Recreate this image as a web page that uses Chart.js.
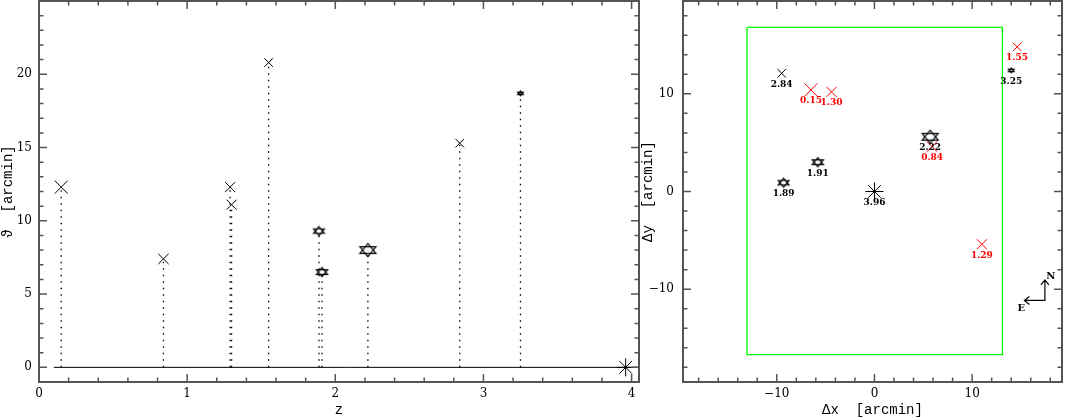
<!DOCTYPE html>
<html>
<head>
<meta charset="utf-8">
<script src="https://cdn.jsdelivr.net/npm/chart.js@4"></script>
<style>
html, body { margin: 0; padding: 0; background: #fff; }
#wrap { position: relative; width: 1066px; height: 419px; overflow: hidden; }
#left { position: absolute; left: 0; top: 0; }
#right { position: absolute; left: 640px; top: 0; }
</style>
</head>
<body>
<div id="wrap">
  <canvas id="left" width="645" height="419"></canvas>
  <canvas id="right" width="426" height="419"></canvas>
</div>
<script>
// objetos, mismo orden en los dos paneles
const zLabels = ['0.15', '0.84', '1.29', '1.30', '1.55', '1.89', '1.91', '2.22', '2.84', '3.25', '3.96'];
const z     = [0.15, 0.84, 1.29, 1.30, 1.55, 1.89, 1.91, 2.22, 2.84, 3.25, 3.96];
const theta = [12.3, 7.4, 12.3, 11.1, 20.8, 9.3, 6.5, 8.0, 15.3, 18.7, 0];   // separacion [arcmin]
const dx    = [-6.5, 5.9, 11.0, -4.4, 14.6, -9.3, -5.8, 5.7, -9.5, 14.0, 0];
const dy    = [10.4, 4.6, -5.4, 10.2, 14.8, 0.9, 3.0, 5.6, 12.1, 12.4, 0];
const kind  = ['x', 'x', 'x', 'x', 'x', 'star', 'star', 'star', 'x', 'star', 'ast'];

// ejes
const zRange = [0, 4.05];
const thetaRange = [-1, 25];
const dxRange = [-19.6, 19.2];
const dyRange = [-19.5, 19.5];
const zTicks = [0, 1, 2, 3, 4];
const thetaTicks = [0, 5, 10, 15, 20];
const offTicks = [-10, 0, 10];

// campo (rectangulo verde) y brujula
const fieldX = [-13.05, 13.1, 13.1, -13.05, -13.05];
const fieldY = [16.8, 16.8, -16.7, -16.7, 16.8];
const compassAt = [17.45, -11.15];
const compassLen = 2.1;

// estilo de marcadores (media anchura en px) y colores del panel derecho
const markerSize = [6.5, 5.2, 5, 5, 4.3, 5.4, 5.6, 8, 4.3, 2.8, 9];
const rightColor = ['#ff0000', '#ff0000', '#ff0000', '#ff0000', '#ff0000', '#000', '#000', '#000', '#000', '#000', '#000'];

Chart.defaults.color = '#000';
Chart.defaults.font.family = 'DejaVu Serif';

function starOfDavid(hw, color) {
  const rx = hw / 0.866, ry = hw * 0.83;
  const w = Math.ceil(2 * rx + 4), h = Math.ceil(2 * ry + 4);
  const c = document.createElement('canvas');
  c.width = w; c.height = h;
  const g = c.getContext('2d');
  g.strokeStyle = color;
  g.lineWidth = 1.2;
  [-90, 90].forEach(a0 => {
    g.beginPath();
    for (let k = 0; k < 3; k++) {
      const a = (a0 + 120 * k) * Math.PI / 180;
      g.lineTo(w / 2 + rx * Math.cos(a), h / 2 + ry * Math.sin(a));
    }
    g.closePath();
    g.stroke();
  });
  return c;
}

function styles(colors) {
  return kind.map((k, i) => k === 'star' ? starOfDavid(markerSize[i], colors[i]) : (k === 'x' ? 'crossRot' : 'star'));
}
const radii = kind.map((k, i) => k === 'x' ? markerSize[i] / 0.7071 : markerSize[i]);
const fmt = v => v < 0 ? '\u2212' + Math.abs(v) : String(v);

// marco con ticks hacia adentro
const frame = {
  id: 'frame',
  afterDatasetsDraw(chart, args, o) {
    const { ctx, chartArea: a, scales } = chart;
    const marks = (s, step, major) => {
      const out = [];
      for (let i = Math.ceil(s.min / step - 1e-6); i * step <= s.max + 1e-9; i++) {
        const v = i * step;
        const maj = Math.abs(v / major - Math.round(v / major)) < 1e-6;
        out.push([s.getPixelForValue(v), maj ? 8 : 4.5]);
      }
      return out;
    };
    ctx.save();
    ctx.strokeStyle = '#555';
    ctx.lineWidth = 1.5;
    ctx.beginPath();
    marks(scales.x, o.xMinor, o.xMajor).forEach(([p, l]) => {
      ctx.moveTo(p, a.bottom); ctx.lineTo(p, a.bottom - l);
      ctx.moveTo(p, a.top); ctx.lineTo(p, a.top + l);
    });
    marks(scales.y, o.yMinor, o.yMajor).forEach(([p, l]) => {
      ctx.moveTo(a.left, p); ctx.lineTo(a.left + l, p);
      ctx.moveTo(a.right, p); ctx.lineTo(a.right - l, p);
    });
    ctx.stroke();
    ctx.lineWidth = 2;
    ctx.strokeRect(a.left, a.top, a.right - a.left, a.bottom - a.top);
    ctx.restore();
  }
};

// etiquetas de z bajo cada objeto
const tags = {
  id: 'tags',
  afterDatasetsDraw(chart, args, o) {
    if (o.dataset === undefined) return;
    const { ctx } = chart;
    const meta = chart.getDatasetMeta(o.dataset);
    ctx.save();
    ctx.font = 'bold 9px "DejaVu Serif"';
    ctx.textAlign = 'center';
    ctx.textBaseline = 'middle';
    meta.data.forEach((pt, i) => {
      ctx.fillStyle = rightColor[i];
      ctx.fillText(zLabels[i], pt.x, pt.y + 11);
    });
    ctx.restore();
  }
};

// brujula N / E
const compass = {
  id: 'compass',
  afterDatasetsDraw(chart, args, o) {
    if (!o.show) return;
    const { ctx, scales: { x, y } } = chart;
    const cx = x.getPixelForValue(compassAt[0]), cy = y.getPixelForValue(compassAt[1]);
    const nx = cx, ny = y.getPixelForValue(compassAt[1] + compassLen);
    const ex = x.getPixelForValue(compassAt[0] - compassLen), ey = cy;
    ctx.save();
    ctx.strokeStyle = '#000';
    ctx.lineWidth = 1.2;
    ctx.beginPath();
    ctx.moveTo(nx, ny); ctx.lineTo(cx, cy); ctx.lineTo(ex, ey);
    ctx.moveTo(nx - 4, ny + 5); ctx.lineTo(nx, ny); ctx.lineTo(nx + 4, ny + 5);
    ctx.moveTo(ex + 5, ey - 4); ctx.lineTo(ex, ey); ctx.lineTo(ex + 5, ey + 4);
    ctx.stroke();
    ctx.font = 'bold 10px "DejaVu Serif"';
    ctx.fillStyle = '#000';
    ctx.textAlign = 'center';
    ctx.textBaseline = 'middle';
    ctx.fillText('N', nx + 6, ny - 4);
    ctx.fillText('E', ex - 3, ey + 8);
    ctx.restore();
  }
};

function axis(range, ticks, width, height, title, pad) {
  return {
    type: 'linear',
    min: range[0],
    max: range[1],
    grid: { display: false, drawTicks: false, tickLength: 0 },
    border: { display: false },
    afterBuildTicks: s => { s.ticks = ticks.map(v => ({ value: v })); },
    afterFit: s => {
      if (width) s.width = width;
      if (height) s.height = height;
      s.paddingTop = 0; s.paddingBottom = 0; s.paddingLeft = 0; s.paddingRight = 0;
    },
    ticks: { padding: pad, font: { size: 12 }, callback: fmt, maxRotation: 0, autoSkip: false },
    title: { display: true, text: title, font: { family: 'Liberation Mono', size: 14 }, padding: { top: 0, bottom: 0 } }
  };
}

// panel izquierdo: theta vs z
const stems = [];
z.forEach((v, i) => {
  if (theta[i] > 0) stems.push({ x: v, y: 0 }, { x: v, y: theta[i] }, { x: v, y: null });
});

new Chart(document.getElementById('left'), {
  type: 'scatter',
  data: {
    datasets: [
      {
        data: z.map((v, i) => ({ x: v, y: theta[i] })),
        pointStyle: styles(z.map(() => '#000')),
        pointRadius: radii,
        borderColor: '#000',
        borderWidth: 1,
        order: 0
      },
      {
        data: stems,
        showLine: true,
        spanGaps: false,
        pointRadius: 0,
        borderColor: '#000',
        borderWidth: 1.3,
        borderDash: [1.5, 5],
        order: 1
      },
      {
        data: [{ x: 0.1, y: 0 }, { x: zRange[1], y: 0 }],
        showLine: true,
        pointRadius: 0,
        borderColor: '#000',
        borderWidth: 1,
        order: 2
      }
    ]
  },
  options: {
    responsive: false,
    animation: false,
    events: [],
    layout: { autoPadding: false, padding: { left: 0, top: 1, right: 6, bottom: 0 } },
    plugins: { legend: { display: false }, tooltip: { enabled: false }, frame: { xMinor: 0.2, xMajor: 1, yMinor: 1, yMajor: 5 } },
    scales: {
      x: axis(zRange, zTicks, null, 37, 'z', 5),
      y: axis(thetaRange, thetaTicks, 39, null, '\u03D1  [arcmin]', 7)
    }
  },
  plugins: [frame]
});

// panel derecho: posiciones en el cielo
new Chart(document.getElementById('right'), {
  type: 'scatter',
  data: {
    datasets: [
      {
        data: dx.map((v, i) => ({ x: v, y: dy[i] })),
        pointStyle: styles(rightColor),
        pointRadius: radii,
        borderColor: rightColor,
        borderWidth: 1,
        order: 0
      },
      {
        data: fieldX.map((v, i) => ({ x: v, y: fieldY[i] })),
        showLine: true,
        pointRadius: 0,
        borderColor: '#00ff00',
        borderWidth: 1.3,
        order: 1
      }
    ]
  },
  options: {
    responsive: false,
    animation: false,
    events: [],
    layout: { autoPadding: false, padding: { left: 0, top: 1, right: 4, bottom: 0 } },
    plugins: {
      legend: { display: false }, tooltip: { enabled: false },
      frame: { xMinor: 2, xMajor: 10, yMinor: 2, yMajor: 10 },
      tags: { dataset: 0 },
      compass: { show: true }
    },
    scales: {
      x: axis(dxRange, offTicks, null, 37, '\u0394x  [arcmin]', 5),
      y: axis(dyRange, offTicks, 43, null, '\u0394y  [arcmin]', 9)
    }
  },
  plugins: [frame, tags, compass]
});
</script>
</body>
</html>
